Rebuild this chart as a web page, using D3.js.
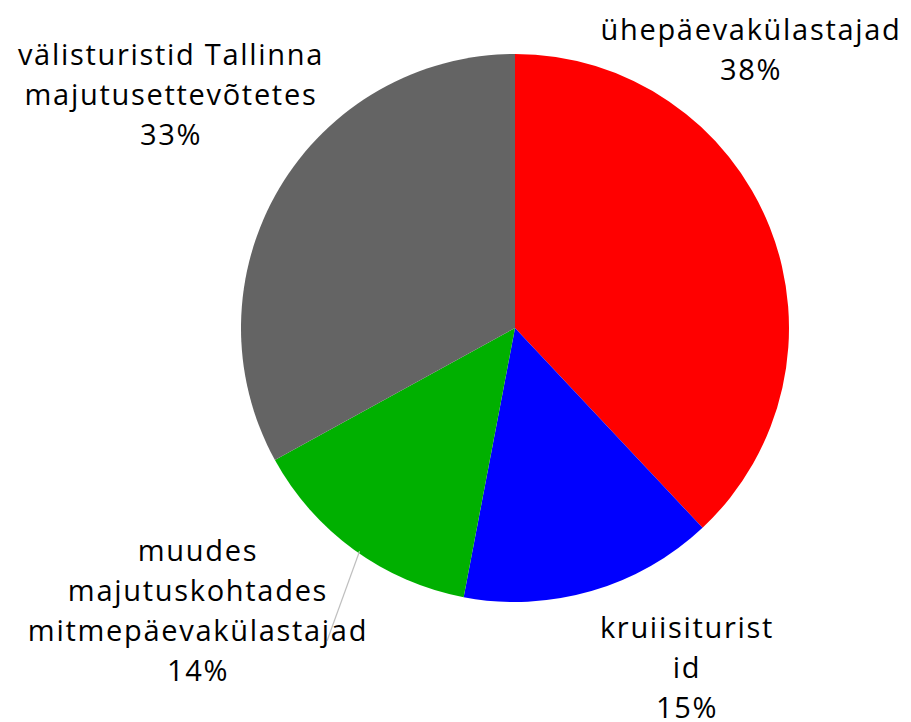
<!DOCTYPE html>
<html>
<head>
<meta charset="utf-8">
<script src="https://cdn.jsdelivr.net/npm/d3@7"></script>
<style>
  body { margin: 0; background: #fff; }
  text { font-family: "Open Sans", sans-serif; fill: #000; letter-spacing: 1.7px; }
</style>
</head>
<body>
<div id="chart"></div>
<script>
// slices, clockwise from 12 o'clock
const categories = [
  ["ühepäevakülastajad"],
  ["kruiisiturist", "id"],
  ["muudes", "majutuskohtades", "mitmepäevakülastajad"],
  ["välisturistid Tallinna", "majutusettevõtetes"]
];
const values = [38, 15, 14, 33];
const colors = ["#ff0000", "#0000ff", "#00b000", "#646464"];

const width = 911, height = 722;
const cx = 515, cy = 328, radius = 274;
const font_size = 29, line_h = 40;

// label block centres (x, y of first line baseline)
const label_pos = [
  [751, 40],
  [687, 638],
  [198, 561],
  [171, 65]
];

const svg = d3.select("#chart").append("svg")
  .attr("width", width)
  .attr("height", height);

const pie = d3.pie().sort(null).value(d => d);
const arc = d3.arc().innerRadius(0).outerRadius(radius);
const arcs = pie(values);

const g = svg.append("g").attr("transform", `translate(${cx},${cy})`);

g.selectAll("path")
  .data(arcs)
  .join("path")
  .attr("d", arc)
  .attr("fill", (d, i) => colors[i]);

// leader line for the green slice
const green = arcs[2];
const mid = (green.startAngle + green.endAngle) / 2 - 0.02;
const p0 = [Math.sin(mid) * (radius - 2), -Math.cos(mid) * (radius - 2)];
svg.append("line")
  .attr("x1", cx + p0[0]).attr("y1", cy + p0[1])
  .attr("x2", 327).attr("y2", 641)
  .attr("stroke", "#bfbfbf").attr("stroke-width", 1.2);

categories.forEach((lines, i) => {
  const t = svg.append("text")
    .attr("text-anchor", "middle")
    .attr("font-size", font_size);
  const all = lines.concat([values[i] + "%"]);
  all.forEach((s, j) => {
    t.append("tspan")
      .attr("x", label_pos[i][0])
      .attr("y", label_pos[i][1] + j * line_h)
      .text(s);
  });
});
</script>
</body>
</html>
